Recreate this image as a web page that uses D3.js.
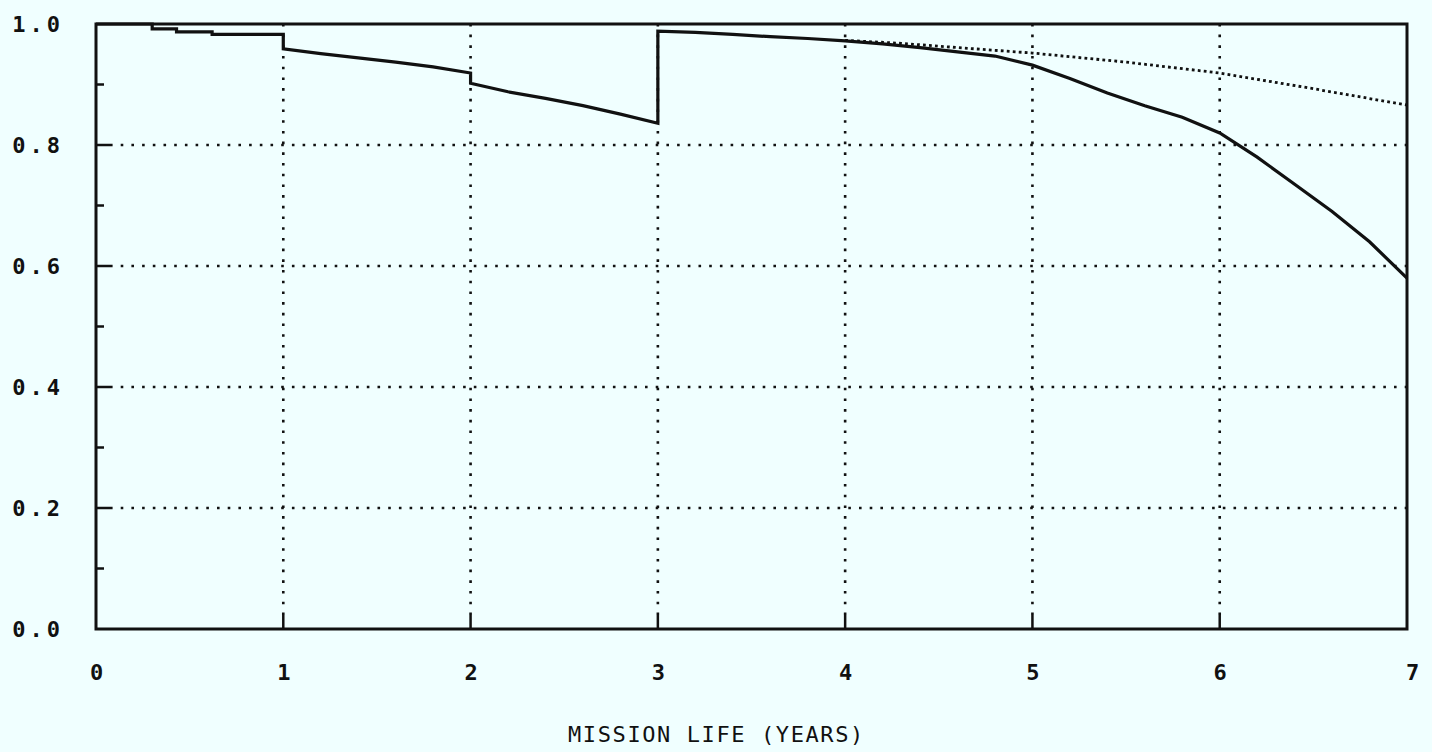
<!DOCTYPE html>
<html lang="en">
<head>
    <meta charset="UTF-8">
    <title>Mission Life</title>
    <script src="https://d3js.org/d3.v7.min.js"></script>
    <style>
        body { margin: 0; background: #f0ffff; }
        svg { display: block; }
        .tick text { font-family: "DejaVu Sans Mono", monospace; font-weight: bold; fill: #111; }
    </style>
</head>
<body>
    <div id="chart"></div>
    <script>
        // values
        const xTicks = [0, 1, 2, 3, 4, 5, 6, 7];
        const yTicks = [0.0, 0.2, 0.4, 0.6, 0.8, 1.0];
        const yMinor = [0.1, 0.3, 0.5, 0.7, 0.9];
        const xGrid = [1, 2, 3, 4, 5, 6];
        const yGrid = [0.2, 0.4, 0.6, 0.8];

        // solid curve (repeated years = vertical jumps)
        const solidYears = [0, 0.3, 0.3, 0.43, 0.43, 0.62, 0.62, 1.0, 1.0, 1.2, 1.4, 1.6, 1.8, 2.0, 2.0,
            2.2, 2.4, 2.6, 2.8, 3.0, 3.0, 3.2, 3.4, 3.6, 3.8, 4.0, 4.2, 4.4, 4.6, 4.8, 5.0,
            5.2, 5.4, 5.6, 5.8, 6.0, 6.2, 6.4, 6.6, 6.8, 7.0];
        const solidValues = [1.0, 1.0, 0.992, 0.992, 0.987, 0.987, 0.983, 0.983, 0.959, 0.951, 0.944, 0.937, 0.929, 0.919, 0.902,
            0.888, 0.877, 0.865, 0.851, 0.836, 0.988, 0.986, 0.983, 0.979, 0.976, 0.972, 0.967, 0.961, 0.954, 0.947, 0.932,
            0.910, 0.886, 0.865, 0.846, 0.820, 0.780, 0.735, 0.690, 0.640, 0.580];

        // dotted curve
        const dotYears = [4.0, 4.3, 4.6, 5.0, 5.5, 6.0, 6.5, 7.0];
        const dotValues = [0.973, 0.968, 0.961, 0.952, 0.937, 0.919, 0.893, 0.866];

        const width = 1432, height = 752;
        const svg = d3.select("#chart").append("svg")
            .attr("width", width)
            .attr("height", height);

        const x = d3.scaleLinear().domain([0, 7]).range([96, 1407]);
        const y = d3.scaleLinear().domain([0, 1]).range([629, 24]);

        // dotted grid
        svg.append("g").selectAll("line")
            .data(yGrid)
            .enter().append("line")
            .attr("x1", x(0) + 14).attr("x2", x(7))
            .attr("y1", d => y(d)).attr("y2", d => y(d))
            .style("stroke", "#111")
            .style("stroke-width", 2.6)
            .style("stroke-dasharray", "2.6,8.1");

        svg.append("g").selectAll("line")
            .data(xGrid)
            .enter().append("line")
            .attr("x1", d => x(d)).attr("x2", d => x(d))
            .attr("y1", y(0) - 14).attr("y2", y(1))
            .style("stroke", "#111")
            .style("stroke-width", 2.6)
            .style("stroke-dasharray", "2.6,8.1");

        // inward ticks
        svg.append("g").selectAll("line")
            .data(yMinor)
            .enter().append("line")
            .attr("x1", x(0)).attr("x2", x(0) + 8)
            .attr("y1", d => y(d)).attr("y2", d => y(d))
            .style("stroke", "#111").style("stroke-width", 2.5);

        svg.append("g").selectAll("line")
            .data(yGrid)
            .enter().append("line")
            .attr("x1", x(0)).attr("x2", x(0) + 14)
            .attr("y1", d => y(d)).attr("y2", d => y(d))
            .style("stroke", "#111").style("stroke-width", 2.5);

        svg.append("g").selectAll("line")
            .data(xGrid)
            .enter().append("line")
            .attr("x1", d => x(d)).attr("x2", d => x(d))
            .attr("y1", y(0)).attr("y2", y(0) - 14)
            .style("stroke", "#111").style("stroke-width", 2.5);

        // frame
        svg.append("rect")
            .attr("x", x(0)).attr("y", y(1))
            .attr("width", x(7) - x(0)).attr("height", y(0) - y(1))
            .style("fill", "none")
            .style("stroke", "#111")
            .style("stroke-width", 3);

        // axis labels
        const yAxis = svg.append("g")
            .attr("transform", `translate(${x(0)},0)`)
            .call(d3.axisLeft(y).tickValues(yTicks).tickSize(0).tickPadding(32).tickFormat(d3.format(".1f")));
        yAxis.select(".domain").remove();
        yAxis.selectAll("text").style("font-size", "22px").style("letter-spacing", "4px");

        const xAxis = svg.append("g")
            .attr("transform", `translate(0,${y(0)})`)
            .call(d3.axisBottom(x).tickValues(xTicks).tickSize(0).tickPadding(35).tickFormat(d3.format("d")));
        xAxis.select(".domain").remove();
        xAxis.selectAll("text").style("font-size", "22px");
        xAxis.selectAll("text").filter(d => d === 7).attr("dx", 5);

        svg.append("text")
            .attr("x", 568)
            .attr("y", 742)
            .style("font-family", "'DejaVu Sans Mono', monospace")
            .style("font-size", "22px")
            .style("letter-spacing", "1.6px")
            .style("fill", "#111")
            .text("MISSION LIFE (YEARS)");

        // curves
        const solid = solidYears.map((d, i) => ({ t: d, v: solidValues[i] }));
        const dotted = dotYears.map((d, i) => ({ t: d, v: dotValues[i] }));

        const line = d3.line()
            .x(d => x(d.t))
            .y(d => y(d.v));

        svg.append("path")
            .datum(dotted)
            .attr("d", line)
            .style("fill", "none")
            .style("stroke", "#111")
            .style("stroke-width", 2.8)
            .style("stroke-dasharray", "2.8,3.2");

        svg.append("path")
            .datum(solid)
            .attr("d", line)
            .style("fill", "none")
            .style("stroke", "#111")
            .style("stroke-width", 3.2);
    </script>
</body>
</html>
